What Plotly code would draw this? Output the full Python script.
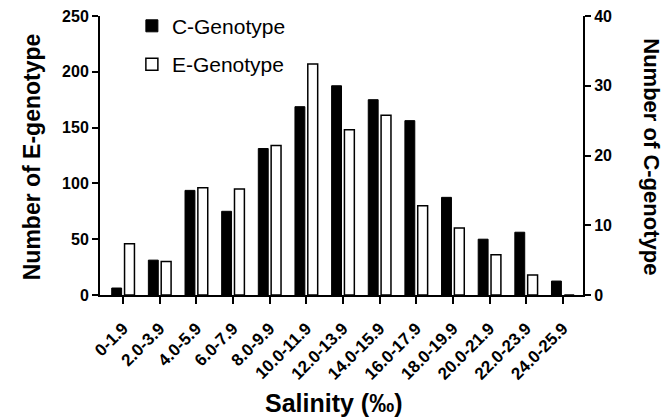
import plotly.graph_objects as go

categories = ["0-1.9", "2.0-3.9", "4.0-5.9", "6.0-7.9", "8.0-9.9", "10.0-11.9",
              "12.0-13.9", "14.0-15.9", "16.0-17.9", "18.0-19.9", "20.0-21.9",
              "22.0-23.9", "24.0-25.9"]
c_genotype = [1, 5, 15, 12, 21, 27, 30, 28, 25, 14, 8, 9, 2]
e_genotype = [46, 30, 96, 95, 134, 207, 148, 161, 80, 60, 36, 18, 0]

FONT = "Liberation Sans, Arial, sans-serif"

fig = go.Figure()
fig.add_trace(go.Bar(
    x=categories, y=c_genotype, name="C-Genotype", yaxis="y2",
    marker=dict(color="black", line=dict(color="black", width=1)),
    offset=-0.31, width=0.27, legendgroup="c",
))
fig.add_trace(go.Bar(
    x=categories, y=e_genotype, name="E-Genotype", yaxis="y",
    marker=dict(color="white", line=dict(color="black", width=1.5)),
    offset=0.04, width=0.27, legendgroup="e",
))

fig.update_layout(
    width=663, height=419,
    margin=dict(l=100, r=80, t=16, b=124, autoexpand=False),
    paper_bgcolor="white", plot_bgcolor="white",
    font=dict(family=FONT, color="black"),
    showlegend=True,
    legend=dict(x=0.066, y=1.037, xanchor="left", yanchor="top",
                font=dict(size=21, family=FONT, color="black"),
                bgcolor="rgba(0,0,0,0)", traceorder="grouped", tracegroupgap=8),
    xaxis=dict(
        type="category", range=[-0.63, 12.55],
        showline=True, linecolor="black", linewidth=2,
        ticks="outside", ticklen=7, tickwidth=2, tickcolor="black",
        tickangle=-45, showgrid=False, zeroline=False, automargin=False,
        ticklabelstandoff=8,
        tickfont=dict(size=17, family=FONT, color="black", weight="bold"),
    ),
    yaxis=dict(
        range=[0, 250], dtick=50, showline=True, linecolor="black", linewidth=2,
        ticks="outside", ticklen=6, tickwidth=2, tickcolor="black",
        showgrid=False, zeroline=False, automargin=False,
        tickfont=dict(size=16, family=FONT, color="black", weight="bold"),
    ),
    yaxis2=dict(
        range=[0, 40], dtick=10, overlaying="y", side="right",
        showline=True, linecolor="black", linewidth=2,
        ticks="outside", ticklen=6, tickwidth=2, tickcolor="black",
        showgrid=False, zeroline=False, automargin=False,
        tickfont=dict(size=16, family=FONT, color="black", weight="bold"),
    ),
    annotations=[
        dict(text="<b>Number of E-genotype</b>", xref="paper", yref="paper",
             x=-0.14, y=0.495, textangle=-90, showarrow=False,
             xanchor="center", yanchor="middle",
             font=dict(size=23, family=FONT, color="black")),
        dict(text="<b>Number of C-genotype</b>", xref="paper", yref="paper",
             x=1.14, y=0.495, textangle=90, showarrow=False,
             xanchor="center", yanchor="middle",
             font=dict(size=22, family=FONT, color="black")),
        dict(text="<b>Salinity (‰)</b>", xref="paper", yref="paper",
             x=0.485, y=-0.387, showarrow=False,
             xanchor="center", yanchor="middle",
             font=dict(size=25, family=FONT, color="black")),
    ],
)

fig.write_html("out.html", config={"displayModeBar": False},
               post_script="document.body.style.margin='0';document.body.style.padding='0';")
